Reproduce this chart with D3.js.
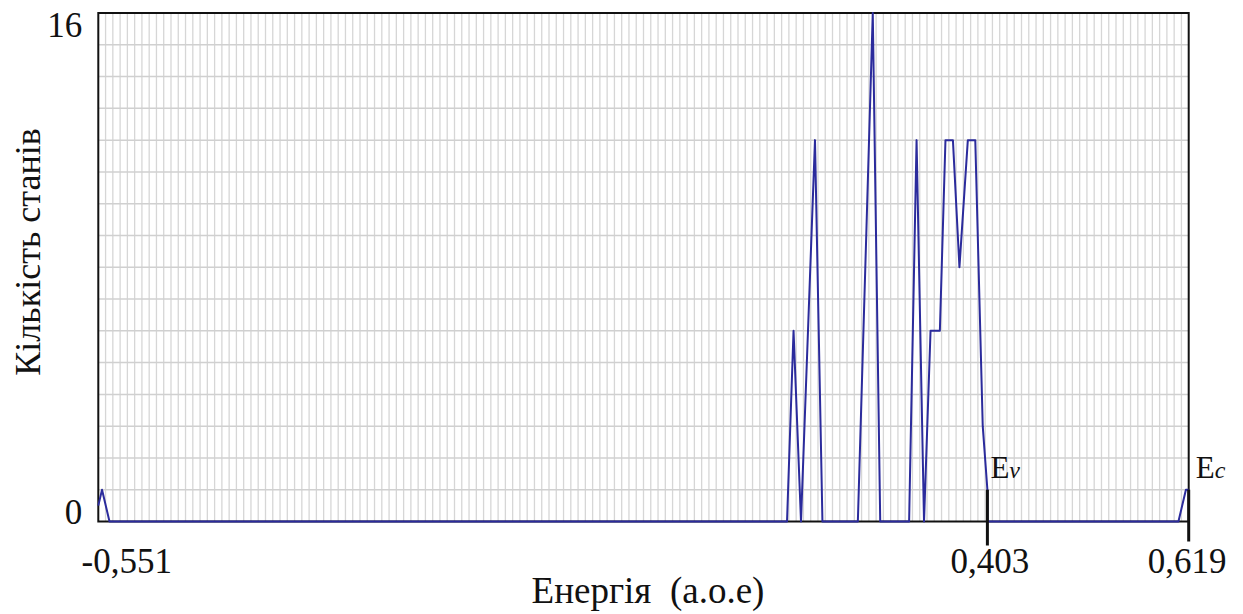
<!DOCTYPE html>
<html>
<head>
<meta charset="utf-8">
<script src="https://cdn.jsdelivr.net/npm/d3@7"></script>
<style>
  body { margin: 0; background: #fff; }
  svg { display: block; }
  text { font-family: "Liberation Serif", "DejaVu Serif", serif; fill: #111; }
</style>
</head>
<body>
<div id="chart"></div>
<script>
// width and height
var w = 1243;
var h = 614;

// energy (a.o.e) and number of states
var energy = [-0.551, -0.547, -0.539, 0.188, 0.195, 0.203, 0.218, 0.226,
  0.264, 0.280, 0.288, 0.319, 0.327, 0.335, 0.342, 0.352, 0.358, 0.366,
  0.373, 0.382, 0.390, 0.398, 0.403, 0.403, 0.608, 0.616, 0.619];
var states = [0.5, 1, 0, 0, 6, 0, 12, 0,
  0, 16, 0, 0, 12, 0, 6, 6, 12, 12,
  8, 12, 12, 3, 1, 0, 0, 1, 1];

var yTicks = [0, 16];
var xTicks = [-0.551, 0.403, 0.619];
var xTickLabels = ["-0,551", "0,403", "0,619"];

// band edges
var edges = [
  { e: 0.403, name: "E", sub: "v" },
  { e: 0.619, name: "E", sub: "c" }
];

var pLeft = 98.3, pRight = 1188.7, pTop = 13, pBottom = 521.5;

var x = d3.scaleLinear().domain([-0.551, 0.619]).range([pLeft, pRight]);
var y = d3.scaleLinear().domain([0, 16]).range([pBottom, pTop]);

var svg = d3.select("#chart")
  .append("svg")
  .attr("width", w)
  .attr("height", h)
  .attr("font-family", "Liberation Serif");

// grid: fine vertical lines, one horizontal line per state
var grid = svg.append("g");
var gx = d3.scaleLinear().domain([0, 150]).range([pLeft, pRight]);
grid.selectAll("line.v")
  .data(d3.range(1, 150))
  .enter()
  .append("line")
  .attr("class", "v")
  .attr("x1", function(d) { return gx(d); })
  .attr("x2", function(d) { return gx(d); })
  .attr("y1", pTop)
  .attr("y2", pBottom)
  .attr("stroke", "#d6d6d6")
  .attr("stroke-width", 1.3);

grid.selectAll("line.h")
  .data(d3.range(1, 16))
  .enter()
  .append("line")
  .attr("class", "h")
  .attr("x1", pLeft)
  .attr("x2", pRight)
  .attr("y1", function(d) { return y(d); })
  .attr("y2", function(d) { return y(d); })
  .attr("stroke", "#d0d0d0")
  .attr("stroke-width", 1.5);

// frame
svg.append("rect")
  .attr("x", pLeft)
  .attr("y", pTop)
  .attr("width", pRight - pLeft)
  .attr("height", pBottom - pTop)
  .attr("fill", "none")
  .attr("stroke", "#111")
  .attr("stroke-width", 2);

// axes (labels only)
var yAxis = svg.append("g")
  .attr("transform", "translate(" + pLeft + ",0)")
  .call(d3.axisLeft(y).tickValues(yTicks).tickSize(0).tickPadding(16).tickFormat(d3.format("d")));
yAxis.select(".domain").remove();
yAxis.attr("font-family", null);
yAxis.selectAll("text")
  .attr("font-size", "35px")
  .attr("fill", "#111")
  .attr("dy", function(d) { return d === 0 ? 1.5 : 23; });

var xAxis = svg.append("g")
  .attr("transform", "translate(0," + pBottom + ")")
  .call(d3.axisBottom(x).tickValues(xTicks).tickSize(0)
    .tickFormat(function(d, i) { return xTickLabels[i]; }));
xAxis.select(".domain").remove();
xAxis.attr("font-family", null);
xAxis.selectAll("text")
  .attr("font-size", "35px")
  .attr("fill", "#111")
  .attr("y", 51)
  .attr("dy", 0)
  .attr("dx", function(d, i) { return i === 0 ? 28 : (i === 1 ? 2 : -2); });

// curve
var line = d3.line()
  .x(function(d, i) { return x(energy[i]); })
  .y(function(d) { return y(d); });

svg.append("path")
  .datum(states)
  .attr("d", line)
  .attr("fill", "none")
  .attr("stroke", "#2b2b9c")
  .attr("stroke-width", 2)
  .attr("stroke-linejoin", "round");

// band edge markers
edges.forEach(function(d, i) {
  svg.append("line")
    .attr("x1", x(d.e))
    .attr("x2", x(d.e))
    .attr("y1", y(1))
    .attr("y2", pBottom + (i === 0 ? 24 : 20))
    .attr("stroke", "#111")
    .attr("stroke-width", 3);
  var t = svg.append("text")
    .attr("x", x(d.e) + (i === 0 ? 3 : 7))
    .attr("y", 478)
    .attr("font-size", "31px");
  t.append("tspan").text(d.name);
  t.append("tspan")
    .attr("font-style", "italic")
    .attr("font-size", "24px")
    .text(d.sub);
});

// axis titles
svg.append("text")
  .attr("x", 648)
  .attr("y", 603)
  .attr("text-anchor", "middle")
  .attr("font-size", "37px")
  .attr("xml:space", "preserve")
  .text("Енергія  (а.о.е)");

svg.append("text")
  .attr("transform", "translate(40,252) rotate(-90)")
  .attr("text-anchor", "middle")
  .attr("font-size", "36px")
  .text("Кількість станів");
</script>
</body>
</html>
